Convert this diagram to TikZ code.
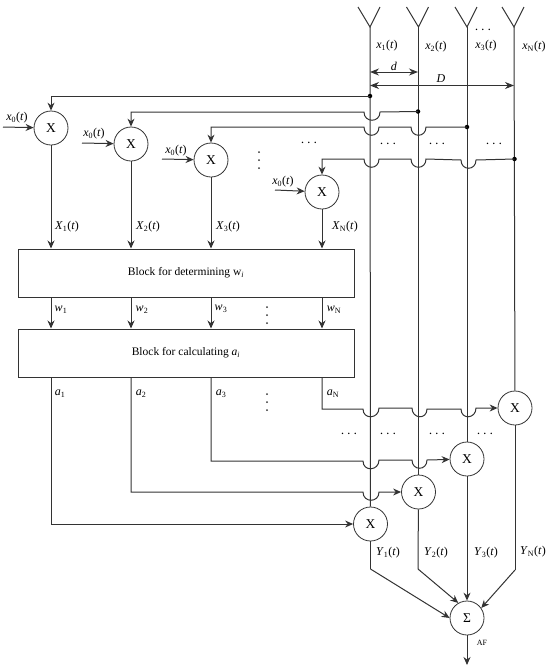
\documentclass[tikz,border=0pt]{standalone}
\usepackage{fontspec}
\setmainfont{Liberation Serif}
\usepackage{xcolor}
\usetikzlibrary{arrows.meta, positioning, calc}
\definecolor{wireGray}{HTML}{333333}
\newcommand{\sigl}[2]{\textit{#1}\textsubscript{#2}(\textit{t})}
\newcommand{\weil}[2]{\textit{#1}\textsubscript{#2}}
\tikzset{
  wire/.style={draw=wireGray, line width=1pt},
  feed/.style={wire, -{Stealth[length=8pt,width=7pt]}},
  dimline/.style={wire, {Stealth[length=9pt,width=7pt]}-{Stealth[length=9pt,width=7pt]}},
  mixer/.style={circle, draw=wireGray, line width=0.8pt, fill=white, minimum size=34pt, inner sep=0pt, font=\fontsize{13.5}{14}\selectfont},
  blockbox/.style={rectangle, draw=wireGray, line width=1pt, minimum width=336pt, minimum height=48pt, inner sep=0pt, font=\fontsize{11.5}{13}\selectfont},
  tag/.style={inner sep=0pt, font=\fontsize{12}{13}\selectfont},
  tap/.style={circle, fill=black, inner sep=0pt, minimum size=4.5pt},
  hdots/.style={inner sep=0pt, font=\fontsize{14}{14}\selectfont},
  hopover/.style={to path={.. controls ($(\tikztostart)+(0,11)$) and ($(\tikztotarget)+(0,11)$) .. (\tikztotarget)}}
}
\begin{document}
\begin{tikzpicture}[x=1pt, y=-1pt]
    \useasboundingbox (0,0) rectangle (550,670);
    % antennas
    \coordinate (ant1) at (370,27);
    \coordinate (ant2) at (418.5,27);
    \coordinate (ant3) at (467,27);
    \coordinate (ant4) at (514,27);
    \foreach \a in {1,2,3,4}
      \draw[wire] ($(ant\a)+(-12,-20)$) -- (ant\a) -- ($(ant\a)+(10,-20)$);
    % mixers, upper row
    \node[mixer] (mixA) at (51,128) {X};
    \node[mixer] (mixB) at (131,144) {X};
    \node[mixer] (mixC) at (211,160) {X};
    \node[mixer] (mixD) at (322,192) {X};
    % blocks
    \node[blockbox] (blockW) at (186,273) {Block for determining w\textsubscript{\textit{i}}};
    \node[blockbox] (blockA) at (186,353) {Block for calculating \textit{a\textsubscript{i}}};
    % mixers, lower row
    \node[mixer] (outA) at (370.5,524) {X};
    \node[mixer] (outB) at (418.5,492) {X};
    \node[mixer] (outC) at (467,459) {X};
    \node[mixer] (outD) at (515,408) {X};
    \node[mixer] (sum) at (467,618) {Σ};
    % antenna lines
    \draw[wire] (ant1) -- (outA);
    \draw[wire] (ant2) -- (outB);
    \draw[wire] (ant3) -- (outC);
    \draw[wire] (ant4) -- (outD);
    % taps
    \node[tap] (tapA) at (370,96) {};
    \node[tap] (tapB) at (418,111.5) {};
    \node[tap] (tapC) at (467,127) {};
    \node[tap] (tapD) at (514.5,159) {};
    \draw[feed] (tapA.center) -| (mixA.north);
    \draw[feed] (tapB.center) -- (380,112) to[hopover] (364,112) -| (mixB.north);
    \draw[feed] (tapC.center) -- (426,127) to[hopover] (411,127) -- (379,127) to[hopover] (364,127) -| (mixC.north);
    \draw[feed] (tapD.center) -- (476,160) to[hopover] (461,160) -- (426,159) to[hopover] (411,159) -- (379,159) to[hopover] (364,159) -| (mixD.north);
    % x0 inputs
    \coordinate (inA) at (3,127);
    \coordinate (inB) at (82,143);
    \coordinate (inC) at (162,159);
    \coordinate (inD) at (275,190);
    \draw[feed] (inA) -- (mixA);
    \draw[feed] (inB) -- (mixB);
    \draw[feed] (inC) -- (mixC);
    \draw[feed] (inD) -- (mixD);
    \node[tag] at (17,118) {\sigl{x}{0}};
    \node[tag] at (94,134) {\sigl{x}{0}};
    \node[tag] at (176,151) {\sigl{x}{0}};
    \node[tag] at (283,182) {\sigl{x}{0}};
    % blocks in and out
    \foreach \m in {mixA,mixB,mixC,mixD} {
      \draw[feed] (\m.south) -- (\m.south |- blockW.north);
      \draw[feed] (blockW.south -| \m) -- (blockA.north -| \m);
    }
    \node[tag] at (67,227) {\sigl{X}{1}};
    \node[tag] at (148,227) {\sigl{X}{2}};
    \node[tag] at (228,227) {\sigl{X}{3}};
    \node[tag] at (345,227) {\sigl{X}{N}};
    \foreach \x/\n/\y in {61/1/310,142/2/310,221/3/309,334/N/310}
      \node[tag] at (\x,\y) {\weil{w}{\n}};
    % a outputs to lower mixers
    \draw[feed] (blockA.south -| mixA) |- (outA);
    \draw[feed] (blockA.south -| mixB) |- (363,492) to[hopover] (379,492) -- (outB);
    \draw[feed] (blockA.south -| mixC) |- (363,461) to[hopover] (379,460) -- (412,460) to[hopover] (427,460) -- (outC);
    \draw[feed] (blockA.south -| mixD) |- (363,409) to[hopover] (379,408) -- (412,408) to[hopover] (427,409) -- (461,409) to[hopover] (476,408) -- (outD);
    \foreach \x/\n in {60/1,141/2,221/3,333/N}
      \node[tag] at (\x,394) {\weil{a}{\n}};
    % dots
    \foreach \x/\y in {483/30,388/144,437/144,494/144,309/143,349/434,388/434,437/434,485/434}
      \node[hdots] at (\x,\y) {$\cdots$};
    \foreach \x/\y in {259/160,267/315,267/402}
      \foreach \d in {-8,0,8}
        \fill[wireGray] (\x,\y+\d) circle (1pt);
    % antenna labels and spacings
    \node[tag] at (387,46) {\sigl{x}{1}};
    \node[tag] at (436,47) {\sigl{x}{2}};
    \node[tag] at (486,46) {\sigl{x}{3}};
    \node[tag] at (534,47) {\sigl{x}{N}};
    \coordinate (dimA) at (370,72);
    \coordinate (dimB) at (418,72);
    \coordinate (dimC) at (370,85.5);
    \coordinate (dimD) at (514,85.5);
    \draw[dimline] (dimA) -- (dimB);
    \draw[dimline] (dimC) -- (dimD);
    \node[tag] at (394,66) {\textit{d}};
    \node[tag] at (441,79) {\textit{D}};
    % sum
    \coordinate (kneeA) at (370.5,569);
    \coordinate (kneeB) at (418,569);
    \coordinate (kneeD) at (515,570);
    \coordinate (outAF) at (467,665);
    \draw[wire] (outA) -- (kneeA);
    \draw[wire] (outB) -- (kneeB);
    \draw[wire] (outD) -- (kneeD);
    \draw[feed] (kneeA) -- (sum.west);
    \draw[feed] (kneeB) -- (sum.120);
    \draw[feed] (outC) -- (sum);
    \draw[feed] (kneeD) -- (sum.35);
    \draw[feed] (sum) -- (outAF);
    \node[tag] at (388,553) {\sigl{Y}{1}};
    \node[tag] at (436,553) {\sigl{Y}{2}};
    \node[tag] at (486,553) {\sigl{Y}{3}};
    \node[tag] at (533,552) {\sigl{Y}{N}};
    \node[inner sep=0pt, font=\fontsize{8}{9}\selectfont] at (482,643) {AF};
  \end{tikzpicture}
\end{document}
